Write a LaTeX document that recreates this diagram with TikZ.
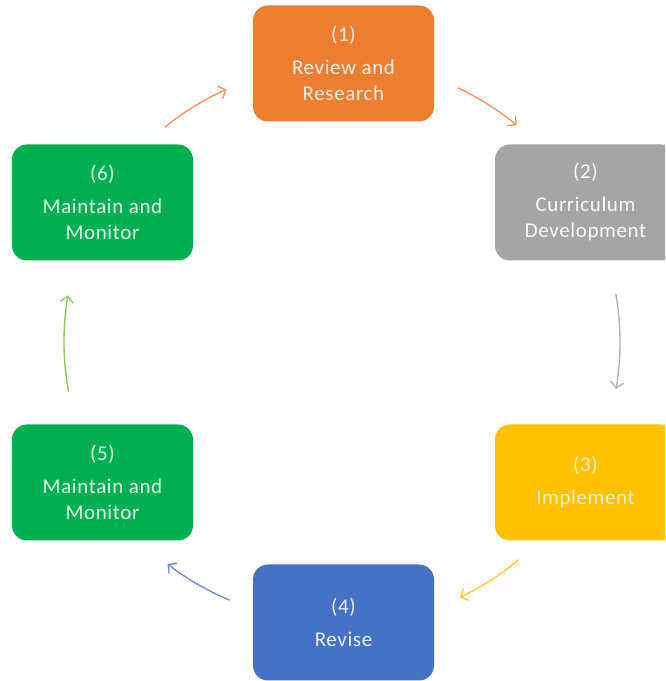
\documentclass[tikz,border=0pt]{standalone}
\usepackage{fontspec}
\setmainfont{Carlito}
\usetikzlibrary{arrows.meta}
\definecolor{cOrange}{HTML}{ED7D31}
\definecolor{cGray}{HTML}{A5A5A5}
\definecolor{cYellow}{HTML}{FFC000}
\definecolor{cBlue}{HTML}{4472C4}
\definecolor{cGreen}{HTML}{00B050}
\definecolor{aOrange}{HTML}{F19766}
\definecolor{aGray}{HTML}{B4B4B4}
\definecolor{aYellow}{HTML}{FFC937}
\definecolor{aBlue}{HTML}{6F8FD0}
\definecolor{aGreen}{HTML}{8FC85A}
\tikzset{
  stagebox/.style={rectangle, rounded corners=15pt, minimum width=181pt, minimum height=116pt,
    inner sep=0pt, align=center, font=\fontsize{21}{26}\selectfont\addfontfeature{LetterSpace=3}},
  cyc/.style={line width=1.4pt, -{Straight Barb[length=6pt,width=13pt,line width=1.4pt]}}
}
\begin{document}
\begin{tikzpicture}[x=1pt,y=1pt]
\useasboundingbox (0,0) rectangle (665,681);
\clip (0,0) rectangle (665,681);
\coordinate (c) at (338,339);
\node[stagebox, fill=cOrange, text=white!88!cOrange] (n1) at (343.5,617.5) {(1)\\[7pt]Review and\\Research};
\node[stagebox, fill=cGray, text=white!92!cGray] (n2) at (585.5,478.5) {(2)\\[7pt]Curriculum\\Development};
\node[stagebox, fill=cYellow, text=white!78!cYellow] (n3) at (585.5,198.5) {(3)\\[7pt]Implement};
\node[stagebox, fill=cBlue, text=white!88!cBlue] (n4) at (343.5,58.5) {(4)\\[7pt]Revise};
\node[stagebox, fill=cGreen, text=white!88!cGreen] (n5) at (102.5,198.5) {(5)\\[7pt]Maintain and\\Monitor};
\node[stagebox, fill=cGreen, text=white!88!cGreen] (n6) at (102.5,478.5) {(6)\\[7pt]Maintain and\\Monitor};
\draw[cyc, aOrange] ([shift={(64.7:281pt)}]c) arc[start angle=64.7, end angle=50.5, radius=281pt];
\draw[cyc, aGray] ([shift={(9.8:282pt)}]c) arc[start angle=9.8, end angle=-9.6, radius=282pt];
\draw[cyc, aYellow] ([shift={(-50.3:283pt)}]c) arc[start angle=-50.3, end angle=-64.5, radius=283pt];
\draw[cyc, aBlue] ([shift={(-112.8:280pt)}]c) arc[start angle=-112.8, end angle=-127.5, radius=280pt];
\draw[cyc, aGreen] ([shift={(-169.5:274pt)}]c) arc[start angle=190.5, end angle=170.2, radius=274pt];
\draw[cyc, aOrange] ([shift={(128.9:276pt)}]c) arc[start angle=128.9, end angle=113.8, radius=276pt];
\end{tikzpicture}
\end{document}
